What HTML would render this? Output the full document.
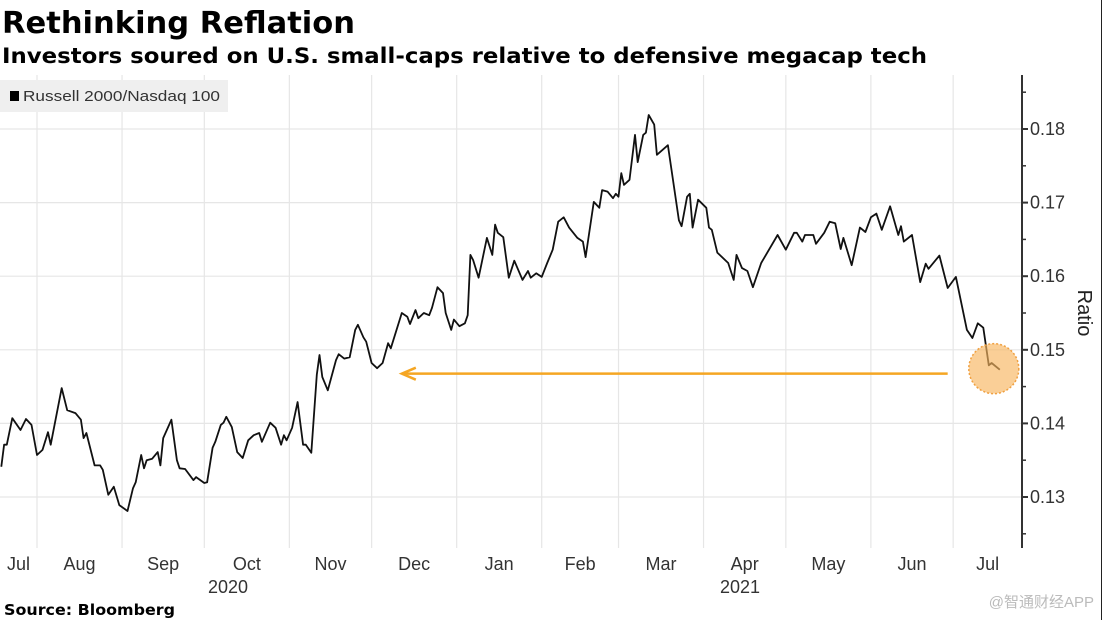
<!DOCTYPE html>
<html><head><meta charset="utf-8"><style>
body{margin:0;background:#fff;width:1103px;height:620px;overflow:hidden;font-family:"Liberation Sans","Noto Sans CJK SC",sans-serif;}
</style></head><body>
<svg width="1103" height="620" xmlns="http://www.w3.org/2000/svg" font-family="Liberation Sans, Noto Sans CJK SC, sans-serif">
<text x="2" y="33" font-size="30" font-weight="bold" fill="#000" font-family="DejaVu Sans, sans-serif" textLength="353" lengthAdjust="spacingAndGlyphs">Rethinking Reflation</text>
<text x="2" y="63" font-size="21" font-weight="bold" fill="#000" font-family="DejaVu Sans, sans-serif" textLength="925" lengthAdjust="spacingAndGlyphs">Investors soured on U.S. small-caps relative to defensive megacap tech</text>
<g id="grid"></g>
<rect x="0" y="80" width="228" height="32" fill="#efefef"/>
<rect x="10" y="91" width="9" height="10" fill="#000"/>
<text x="23" y="101" font-size="15" fill="#333" textLength="197" lengthAdjust="spacingAndGlyphs">Russell 2000/Nasdaq 100</text>
<g id="plot"></g>
<g id="axis"></g>
<text transform="translate(1078,313) rotate(90)" font-size="20" fill="#222" text-anchor="middle">Ratio</text>
<text x="228" y="593" font-size="18" fill="#333" text-anchor="middle">2020</text>
<text x="740" y="593" font-size="18" fill="#333" text-anchor="middle">2021</text>
<text x="4" y="615" font-size="15.5" font-weight="bold" fill="#000" font-family="DejaVu Sans, sans-serif" textLength="171" lengthAdjust="spacingAndGlyphs">Source: Bloomberg</text>
<text x="1094" y="607" font-size="15" fill="#bbb" text-anchor="end">@智通财经APP</text>
<line x1="1101.5" y1="0" x2="1101.5" y2="620" stroke="#222" stroke-width="1"/>
</svg>
<script>
// days since 2020-08-01
const days=[-13,-12,-11,-9,-6,-4,-2,0,2,4,5,9,11,14,16,17,18,21,23,24,26,28,30,33,35,36,38,39,40,42,44,45,46,49,51,52,54,57,58,61,62,64,65,67,68,69,71,73,75,77,79,81,82,85,87,89,90,91,93,95,97,98,100,102,103,104,106,109,110,112,114,116,117,119,120,122,124,126,128,129,133,135,136,138,139,141,143,144,146,148,149,151,152,154,156,157,158,159,161,164,166,167,168,170,172,174,177,179,180,182,184,186,188,190,192,194,197,199,200,203,205,206,208,210,211,212,213,214,216,218,219,221,222,223,225,226,230,234,235,237,238,239,241,244,245,246,248,252,254,255,257,259,261,264,270,273,276,277,279,280,283,284,287,289,291,293,294,297,300,302,304,306,308,311,314,315,316,319,322,324,325,329,332,335,339,341,343,345,347,348,351];
const ratio=[0.1341,0.1371,0.1371,0.1407,0.1391,0.1406,0.1398,0.1357,0.1364,0.1388,0.1371,0.1448,0.1418,0.1414,0.1405,0.1380,0.1387,0.1343,0.1343,0.1337,0.1303,0.1314,0.1289,0.1281,0.1312,0.1320,0.1357,0.1339,0.1350,0.1352,0.1361,0.1343,0.1380,0.1405,0.1350,0.1339,0.1338,0.1323,0.1327,0.1319,0.1320,0.1367,0.1375,0.1398,0.1401,0.1409,0.1395,0.1361,0.1353,0.1377,0.1384,0.1387,0.1375,0.1401,0.1394,0.1371,0.1384,0.1377,0.1394,0.1429,0.1371,0.1371,0.1360,0.1466,0.1493,0.1463,0.1445,0.1486,0.1494,0.1488,0.1490,0.1527,0.1534,0.1517,0.1511,0.1482,0.1475,0.1482,0.1509,0.1502,0.1550,0.1545,0.1535,0.1554,0.1543,0.1550,0.1547,0.1557,0.1585,0.1577,0.1550,0.1527,0.1541,0.1532,0.1536,0.1547,0.1629,0.1622,0.1598,0.1652,0.1629,0.1670,0.1659,0.1653,0.1598,0.1621,0.1595,0.1607,0.1598,0.1604,0.1599,0.1618,0.1636,0.1674,0.1680,0.1666,0.1652,0.1647,0.1626,0.1701,0.1693,0.1717,0.1715,0.1706,0.1712,0.1708,0.1740,0.1724,0.1731,0.1792,0.1755,0.1792,0.1795,0.1819,0.1806,0.1765,0.1778,0.1676,0.1668,0.1708,0.1712,0.1666,0.1704,0.1693,0.1666,0.1663,0.1632,0.1618,0.1595,0.1629,0.1611,0.1607,0.1585,0.1618,0.1656,0.1636,0.1659,0.1659,0.1647,0.1656,0.1656,0.1644,0.1659,0.1674,0.1672,0.1637,0.1652,0.1615,0.1666,0.1660,0.1680,0.1685,0.1663,0.1695,0.1656,0.1668,0.1647,0.1656,0.1592,0.1617,0.1610,0.1628,0.1584,0.1599,0.1527,0.1516,0.1536,0.1530,0.1479,0.1482,0.1473];
const yTicks=[0.13,0.14,0.15,0.16,0.17,0.18];
const yTickLabels=["0.13","0.14","0.15","0.16","0.17","0.18"];
const yMinor=[0.125,0.135,0.145,0.155,0.165,0.175,0.185];
const monthStarts=[0,31,61,92,122,153,184,212,243,273,304,334];
const monthLabels=["Jul","Aug","Sep","Oct","Nov","Dec","Jan","Feb","Mar","Apr","May","Jun","Jul"];
const arrowFromDay=332, arrowToDay=133;

const NS="http://www.w3.org/2000/svg";
const X=d=>37+d*2.743;
const Y=v=>497-(v-0.13)*7360;
const TOP=75,BOT=548,AX=1022;
function mk(tag,attrs,parent){const e=document.createElementNS(NS,tag);for(const k in attrs)e.setAttribute(k,attrs[k]);parent.appendChild(e);return e;}
const grid=document.getElementById('grid'),plot=document.getElementById('plot'),axis=document.getElementById('axis');
yTicks.forEach(v=>{const l=mk('line',{x1:0,x2:AX,y1:Y(v),y2:Y(v),stroke:'#e6e6e6','stroke-width':1.2},grid);

});
monthStarts.forEach(d=>{const l=mk('line',{x1:X(d),x2:X(d),y1:TOP,y2:BOT,stroke:'#e6e6e6','stroke-width':1.2},grid);

});
const edges=[-40].concat(monthStarts).concat([375]);
monthLabels.forEach((m,i)=>{let a=X(edges[i]),b=X(edges[i+1]);a=Math.max(a,0);b=Math.min(b,AX);
const t=mk('text',{x:(a+b)/2,y:570,'font-size':18,fill:'#333','text-anchor':'middle'},axis);t.textContent=m;

});
let dstr=days.map((d,i)=>(i?'L':'M')+X(d).toFixed(1)+','+Y(ratio[i]).toFixed(1)).join('');
const p=mk('path',{d:dstr,fill:'none',stroke:'#111','stroke-width':1.8,'stroke-linejoin':'round'},plot);


const lastD=days[days.length-1],lastV=ratio[ratio.length-1];
const ay=Y(lastV)+4;
const al=mk('line',{x1:X(arrowFromDay),x2:X(arrowToDay)+2,y1:ay,y2:ay,stroke:'#f5a623','stroke-width':2.5},plot);


const ah=mk('path',{d:`M${X(arrowToDay)+14},${ay-6}L${X(arrowToDay)},${ay}L${X(arrowToDay)+14},${ay+6}`,fill:'none',stroke:'#f5a623','stroke-width':2.5},plot);


const c=mk('circle',{cx:X(lastD)-6,cy:Y(lastV)-1,r:25,fill:'#f8b65f','fill-opacity':0.65,stroke:'#f0a040','stroke-width':1.5,'stroke-dasharray':'2 2'},plot);


const ax=mk('line',{x1:AX,x2:AX,y1:TOP,y2:BOT,stroke:'#333','stroke-width':2},axis);


yTicks.forEach((v,i)=>{const l=mk('line',{x1:AX,x2:AX+6,y1:Y(v),y2:Y(v),stroke:'#333','stroke-width':2},axis);


const t=mk('text',{x:AX+8,y:Y(v)+6,'font-size':18,fill:'#333'},axis);t.textContent=yTickLabels[i];

});
yMinor.forEach(v=>{const l=mk('line',{x1:AX,x2:AX+4,y1:Y(v),y2:Y(v),stroke:'#333','stroke-width':1.5},axis);

});
</script>
</body></html>
